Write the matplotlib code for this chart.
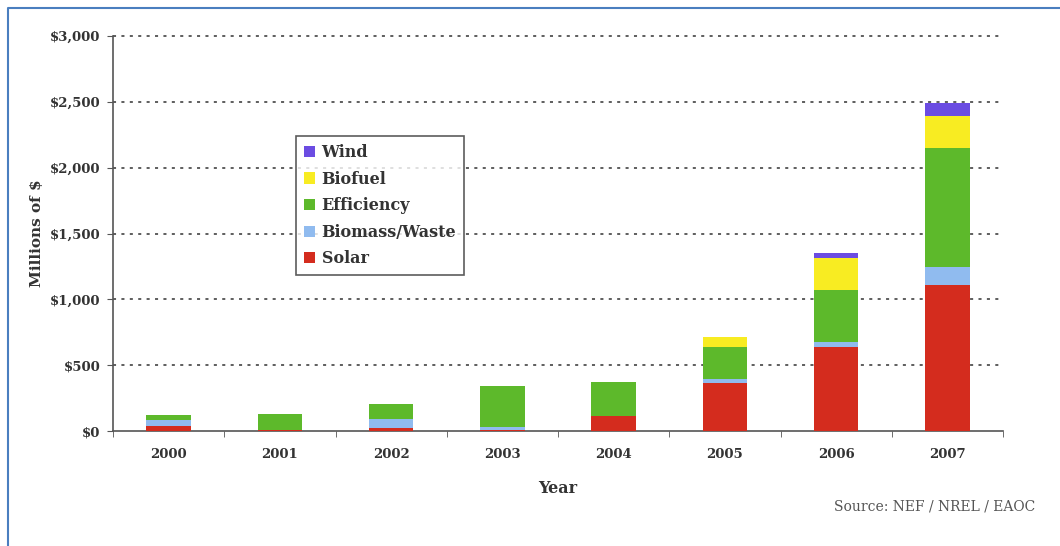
import matplotlib
matplotlib.use("Agg")
import matplotlib.pyplot as plt
from matplotlib.lines import Line2D
import numpy as np

years = ["2000", "2001", "2002", "2003", "2004", "2005", "2006", "2007"]
solar = [38, 5, 25, 10, 115, 362, 640, 1109]
biomass = [45, 0, 64, 20, 0, 30, 33, 139]
efficiency = [38, 125, 113, 310, 260, 248, 398, 898]
biofuel = [0, 0, 0, 0, 0, 76, 240, 246]
wind = [0, 0, 0, 0, 0, 0, 38, 96]

series = [("Solar", solar, "#d42c1e"),
          ("Biomass/Waste", biomass, "#90bbef"),
          ("Efficiency", efficiency, "#5db92b"),
          ("Biofuel", biofuel, "#f8ec22"),
          ("Wind", wind, "#6b4ce2")]

plt.rcParams['font.family'] = ['DejaVu Serif']

fig = plt.figure(figsize=(10.6, 5.46), dpi=100)
ax = fig.add_axes([113/1060, 1 - 431/546, 890/1060, 395/546])

x = np.arange(len(years))
bottom = np.zeros(len(years))
handles = []
for name, vals, col in series:
    b = ax.bar(x, vals, width=0.4, bottom=bottom, color=col, label=name, zorder=3)
    bottom += np.array(vals)
    handles.append(b)

ax.set_xlim(-0.5, 7.5)
ax.set_ylim(0, 3000)
yt = np.arange(0, 3001, 500)
ax.set_yticks(yt)
ax.set_yticklabels(["${:,}".format(v) for v in yt], fontsize=9.5, fontweight='bold', color='#333333')
ax.set_xticks(x)
ax.set_xticklabels(years, fontsize=9.5, fontweight='bold', color='#333333')
ax.tick_params(axis='x', length=0, pad=12)
ax.set_xticks(np.arange(-0.5, 8, 1), minor=True)
ax.tick_params(axis='x', which='minor', length=4, direction='out', color='#555555')
ax.tick_params(axis='y', length=4, direction='out', color='#555555', pad=5)

for v in yt[1:]:
    ax.axhline(v, color='#333333', linestyle=(0, (2, 3.5)), linewidth=1.1, zorder=1, clip_on=False)

for s in ['top', 'right']:
    ax.spines[s].set_visible(False)
ax.spines['left'].set_color('#555555')
ax.spines['bottom'].set_color('#555555')
ax.spines['left'].set_linewidth(1.2)
ax.spines['bottom'].set_linewidth(1.2)

ax.set_xlabel("Year", fontsize=11.5, fontweight='bold', color='#333333', labelpad=14)
ax.set_ylabel("Millions of $", fontsize=11, fontweight='bold', color='#333333', labelpad=4)

leg = ax.legend(handles=handles[::-1], loc='upper left', bbox_to_anchor=(183/890, 1 - 100/395),
                fontsize=11.5, frameon=True, fancybox=False, edgecolor='#333333',
                handlelength=0.7, handleheight=0.7, handletextpad=0.4,
                labelspacing=0.6, borderpad=0.5, borderaxespad=0)
leg.get_frame().set_linewidth(1.2)
for t in leg.get_texts():
    t.set_color('#333333')
    t.set_fontweight('bold')

fig.text(1035/1060, 1 - 507/546, "Source: NEF / NREL / EAOC", fontsize=10,
         color='#555555', ha='right', va='center')

# blue frame on left and top
fig.add_artist(Line2D([8/1060, 8/1060, 1.0], [0.0, 1 - 8/546, 1 - 8/546],
                      transform=fig.transFigure, color='#4a7ebf', linewidth=1.5))

fig.savefig("out.png", dpi=100)
